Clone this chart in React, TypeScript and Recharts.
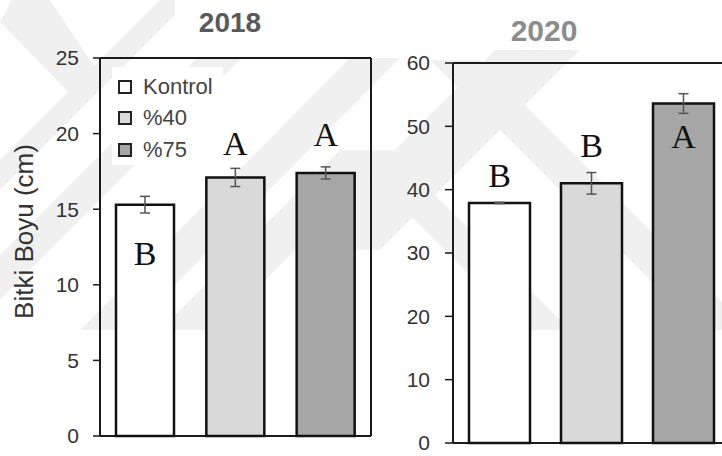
import React from 'react';
import { BarChart, Bar, XAxis, YAxis, Cell, ErrorBar, LabelList, Legend, CartesianGrid } from 'recharts';

// Treatments and their bar fills
const categories = ['Kontrol', '%40', '%75'];
const fills = ['#ffffff', '#d9d9d9', '#a6a6a6'];

// 2018 plant height (cm), standard error and significance letters
const height2018 = [15.3, 17.1, 17.4];
const error2018 = [0.55, 0.6, 0.4];
const letters2018 = ['B', 'A', 'A'];

// 2020 plant height (cm), standard error and significance letters
const height2020 = [37.9, 41.0, 53.6];
const error2020 = [0.1, 1.7, 1.55];
const letters2020 = ['B', 'B', 'A'];

const ticks2018 = [0, 5, 10, 15, 20, 25];
const ticks2020 = [0, 10, 20, 30, 40, 50, 60];

// vertical placement of each letter, relative to the top of its bar (px)
const letterOffset2018 = [60, -22, -27];
const letterOffset2020 = [-16, -26, 44];

// faint background emblem stripes
const emblem = [
  '160,0 190,0 0,190 0,160',
  '0,22 12,0 50,0 102,78 78,102',
  '197,58 242,58 0,300 0,255',
  '350,58 400,58 130,330 80,330',
  '340,150 395,150 215,330 160,330',
  '495,50 580,50 380,250 295,250',
  '430,60 480,60 750,330 700,330',
  '375,180 420,180 570,330 525,330',
];

const data2018 = categories.map((name, i) => ({
  name,
  value: height2018[i],
  err: error2018[i],
  letter: letters2018[i],
}));
const data2020 = categories.map((name, i) => ({
  name,
  value: height2020[i],
  err: error2020[i],
  letter: letters2020[i],
}));

const SANS = '"Liberation Sans", Arial, sans-serif';
const SERIF = '"Liberation Serif", "Times New Roman", serif';
const FRAME = '#1a1a1a';

const makeLetter = (letters: string[], offsets: number[]) => (props: any) => {
  const vb = props.viewBox ?? props;
  const x = vb.x ?? props.x;
  const y = vb.y ?? props.y;
  const w = vb.width ?? props.width;
  const i = props.index ?? 0;
  return (
    <text
      x={x + w / 2}
      y={y + offsets[i]}
      textAnchor="middle"
      fontFamily={SERIF}
      fontSize={34}
      fill="#111"
    >
      {letters[i]}
    </text>
  );
};

const renderLegend = () => (
  <div
    style={{
      background: '#fff',
      width: 111,
      height: 98,
      boxSizing: 'border-box',
      padding: '4px 0 0 6px',
    }}
  >
    {categories.map((c, i) => (
      <div key={c} style={{ display: 'flex', alignItems: 'center', height: 31.5 }}>
        <span
          style={{
            display: 'inline-block',
            width: 10,
            height: 10,
            border: '2px solid #222',
            background: fills[i],
            marginRight: 11,
          }}
        />
        <span style={{ fontSize: 22, color: '#444', fontFamily: SANS, lineHeight: '22px' }}>{c}</span>
      </div>
    ))}
  </div>
);

// closed frame around the plotting area
const frameRows = ({ offset }: any) => [offset.top, offset.top + offset.height];
const frameCols = ({ offset }: any) => [offset.left, offset.left + offset.width];

export default function App() {
  return (
    <div
      style={{
        position: 'absolute',
        left: 0,
        top: 0,
        width: 722,
        height: 456,
        overflow: 'hidden',
        background: '#fff',
      }}
    >
      <svg width={722} height={456} style={{ position: 'absolute', left: 0, top: 0 }}>
        {emblem.map((p, i) => (
          <polygon key={i} points={p} fill="#f0f0f0" />
        ))}
        <rect x={175} y={0} width={513} height={50} fill="#ffffff" />
      </svg>

      {/* 2018 panel */}
      <div style={{ position: 'absolute', left: 0, top: 0 }}>
        <BarChart
          width={380}
          height={456}
          data={data2018}
          margin={{ top: 58, right: 9, bottom: 20, left: 40 }}
        >
          <CartesianGrid
            stroke={FRAME}
            strokeWidth={2}
            fill="none"
            horizontalCoordinatesGenerator={frameRows}
            verticalCoordinatesGenerator={frameCols}
          />
          <XAxis dataKey="name" tick={false} tickLine={false} axisLine={false} height={0} />
          <YAxis
            domain={[0, 25]}
            ticks={ticks2018}
            interval={0}
            width={60}
            tickSize={7}
            tickMargin={14}
            axisLine={false}
            tickLine={{ stroke: FRAME, strokeWidth: 1.5 }}
            tick={{ fill: '#333', fontSize: 21, fontFamily: SANS }}
          />
          <Legend
            layout="vertical"
            align="center"
            verticalAlign="middle"
            content={renderLegend}
            wrapperStyle={{ left: 112, top: 67, width: 111, height: 98 }}
          />
          <Bar dataKey="value" barSize={58} stroke="#111" strokeWidth={2.5} isAnimationActive={false}>
            {data2018.map((d, i) => (
              <Cell key={d.name} fill={fills[i]} />
            ))}
            <ErrorBar dataKey="err" direction="y" width={5} stroke="#555" strokeWidth={1.5} />
            <LabelList dataKey="letter" content={makeLetter(letters2018, letterOffset2018)} />
          </Bar>
        </BarChart>
      </div>

      {/* 2020 panel */}
      <div style={{ position: 'absolute', left: 372, top: 0 }}>
        <BarChart
          width={360}
          height={456}
          data={data2020}
          margin={{ top: 63, right: 3, bottom: 13, left: 0 }}
        >
          <CartesianGrid
            stroke={FRAME}
            strokeWidth={2}
            fill="none"
            horizontalCoordinatesGenerator={frameRows}
            verticalCoordinatesGenerator={frameCols}
          />
          <XAxis dataKey="name" tick={false} tickLine={false} axisLine={false} height={0} />
          <YAxis
            domain={[0, 60]}
            ticks={ticks2020}
            interval={0}
            width={81}
            tickSize={8}
            tickMargin={15}
            axisLine={false}
            tickLine={{ stroke: FRAME, strokeWidth: 1.5 }}
            tick={{ fill: '#333', fontSize: 21, fontFamily: SANS }}
          />
          <Bar dataKey="value" barSize={61} stroke="#111" strokeWidth={2.5} isAnimationActive={false}>
            {data2020.map((d, i) => (
              <Cell key={d.name} fill={fills[i]} />
            ))}
            <ErrorBar dataKey="err" direction="y" width={5} stroke="#555" strokeWidth={1.5} />
            <LabelList dataKey="letter" content={makeLetter(letters2020, letterOffset2020)} />
          </Bar>
        </BarChart>
      </div>

      {/* titles and shared axis label */}
      <svg
        width={722}
        height={456}
        style={{ position: 'absolute', left: 0, top: 0, pointerEvents: 'none' }}
      >
        <text x={230} y={32} textAnchor="middle" fontFamily={SANS} fontWeight="bold" fontSize={28} fill="#595959">
          2018
        </text>
        <text x={544} y={41} textAnchor="middle" fontFamily={SANS} fontWeight="bold" fontSize={30} fill="#8c8c8c">
          2020
        </text>
        <text
          transform="translate(33,231.5) rotate(-90)"
          textAnchor="middle"
          fontFamily={SANS}
          fontSize={26}
          fill="#333"
        >
          Bitki Boyu (cm)
        </text>
      </svg>
    </div>
  );
}
